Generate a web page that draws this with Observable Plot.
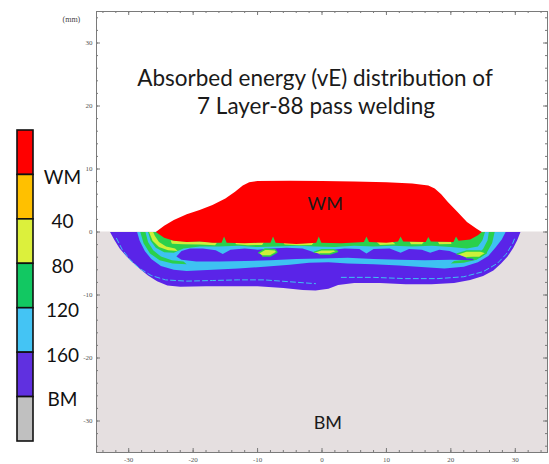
<!DOCTYPE html>
<html><head><meta charset="utf-8">
<script src="https://cdn.jsdelivr.net/npm/d3@7"></script>
<script src="https://cdn.jsdelivr.net/npm/@observablehq/plot@0.6"></script>
<style>
body{margin:0;background:#fff}
#wrap{position:relative;width:549px;height:464px;overflow:hidden}
#wrap svg{position:absolute;left:0;top:0;background:transparent;overflow:visible}
</style>
</head><body><div id="wrap"></div>
<script>
// ---- axes / ticks ----
const xDomain = [-35, 35];
const yDomain = [-35, 35];
const majorTicks = [-30, -20, -10, 0, 10, 20, 30];
const minorTicks = [-34,-32,-30,-28,-26,-24,-22,-20,-18,-16,-14,-12,-10,-8,-6,-4,-2,0,2,4,6,8,10,12,14,16,18,20,22,24,26,28,30,32,34];
const titleLines = ["Absorbed energy (vE) distribution of", "7 Layer-88 pass welding"];
const unitLabel = ["(mm)"];

// ---- legend ----
const legendColors = ["#ff0000", "#ffc000", "#dcf03c", "#12c862", "#44c4f4", "#6030e0", "#c0c0c0"];
const legendLabels = ["WM", "40", "80", "120", "160", "BM"];

// ---- region boundaries (mm) ----
const blueOuter = [[-32.9,0],[-32.2,-1.3],[-31.4,-2.6],[-30.4,-3.8],[-29.4,-4.8],[-28.2,-5.9],[-27,-6.9],[-25.6,-7.8],[-24,-8.5],[-22,-8.7],[-18,-8.6],[-14,-8.6],[-10,-8.6],[-6,-8.9],[-3,-9.2],[-1,-9.3],[1,-9.0],[2.5,-8.4],[5,-8.1],[9,-8.1],[13,-8.3],[17,-8.3],[20.5,-8.1],[23,-7.6],[25,-7.0],[26.6,-6.1],[27.8,-5.0],[28.8,-3.9],[29.7,-2.5],[30.3,-1.3],[30.8,0]];
const lightBlueBowl = [[-28.7,0],[-28.3,-1.4],[-27.5,-3.0],[-26.5,-4.3],[-25,-5.4],[-23,-6.0],[-21,-6.2],[-17,-6.0],[-13,-5.8],[-9,-5.5],[-5,-5.2],[-2,-4.9],[1,-4.8],[4,-5.0],[8,-5.1],[12,-5.3],[16,-5.6],[19,-5.8],[22,-5.5],[24.2,-4.8],[25.8,-3.8],[27,-2.4],[27.9,-1.2],[28.5,0]];
const greenArcLeft = [[-28.2,0],[-27.7,-1.8],[-26.7,-3.4],[-25.2,-4.5],[-23.2,-5.0],[-21,-5.1],[-21.5,-4.7],[-23.3,-4.5],[-25,-3.9],[-26.2,-2.9],[-27,-1.6],[-27.4,0]];
const greenArcRight = [[26.8,0],[26.4,-1.8],[25.5,-3.4],[24,-4.4],[22,-4.9],[20,-5.0],[20.5,-4.6],[22.3,-4.4],[23.9,-3.8],[25,-2.7],[25.7,-1.3],[25.9,0]];
const innerBlueTop = [[-22.6,-3.9],[-21.8,-3.0],[-20.5,-2.6],[-18.5,-2.6],[-16.5,-2.9],[-15.4,-3.5],[-14.2,-2.8],[-12,-2.6],[-10,-2.8],[-8,-2.6],[-5.5,-2.5],[-3,-2.6],[-1,-3.3],[1,-2.9],[3.5,-2.6],[5.8,-2.7],[6.9,-3.4],[8,-2.7],[10.5,-2.6],[12.2,-3.3],[13.5,-2.7],[15.5,-2.8],[16.8,-3.3],[18.2,-2.8],[19.8,-3.0],[21,-3.5],[22.5,-4.0],[23.5,-4.3]];
const innerBlueBottom = [[-21.8,-4.4],[-19.5,-4.7],[-16,-4.7],[-12,-4.6],[-8,-4.5],[-4,-4.3],[0,-4.2],[4,-4.1],[8,-4.3],[12,-4.4],[16,-4.5],[20,-4.4],[23.5,-4.5]];
const greenBowl = [[-27.0,0],[-26.6,-1.4],[-25.8,-2.5],[-24.5,-3.2],[-23,-3.3],[-21.5,-2.6],[-19,-2.3],[-16,-2.3],[-13,-2.2],[-10,-2.4],[-7,-2.3],[-4,-2.2],[-1,-2.3],[2,-2.4],[5,-2.2],[8,-2.3],[11,-2.2],[14,-2.3],[17,-2.2],[20,-2.4],[22.5,-2.6],[24.2,-2.3],[24.9,-1.3],[25.3,0]];
const yellowArcLeft = [[-26.85,0],[-26.3,-1.4],[-25.3,-2.4],[-23.9,-2.9],[-22.4,-3.0],[-22.8,-2.6],[-24.2,-2.3],[-25.3,-1.6],[-25.95,-0.6],[-26.2,0]];
const yellowStrips = [
  [[-23.5,-1.3],[-21,-1.5],[-18.5,-1.5],[-16.3,-1.7],[-16.6,-2.1],[-19,-2.0],[-21.5,-1.95],[-23.3,-1.85]],
  [[-13.6,-1.6],[-11,-1.7],[-9,-1.6],[-9.3,-2.05],[-11.5,-2.1],[-13.3,-1.95]],
  [[-6,-1.7],[-3,-1.8],[-1.3,-1.7],[-1.6,-2.05],[-3.5,-2.1],[-5.8,-2.0]],
  [[8.5,-1.6],[11,-1.6],[11.4,-1.95],[9,-2.05]],
  [[13.6,-1.5],[15.8,-1.6],[15.5,-1.95],[13.8,-1.95]],
  [[18,-1.6],[20,-1.5],[20.1,-1.9],[18.2,-1.95]]
];
const yellowLenses = [
  [[-9.8,-3.3],[-8.8,-2.7],[-7.3,-2.8],[-7.0,-3.2],[-8.0,-3.8],[-9.2,-3.8]],
  [[-1.2,-3.2],[0,-2.8],[1.8,-2.8],[2.4,-3.1],[1.2,-3.5],[-0.3,-3.5]],
  [[21,-3.5],[22.5,-3.0],[24.5,-3.0],[25.5,-3.3],[24.5,-4.0],[22.5,-4.1]]
];
const redTop = [[-25.8,0],[-24.5,1.0],[-23,1.9],[-21,2.8],[-19,3.5],[-17,4.3],[-15,5.3],[-13.5,6.4],[-12.3,7.4],[-11.3,7.9],[-10,8.1],[-5,8.15],[0,8.1],[5,8.0],[10,7.9],[14,7.7],[16.5,7.4],[17.5,6.9],[18.5,6.0],[19.5,4.8],[21,3.2],[22.5,1.6],[24,0.5],[24.8,0]];
const redBottom = [[-25.8,0],[-24.5,-0.9],[-23,-1.4],[-21,-1.6],[-19,-1.5],[-17,-1.7],[-15.6,-1.7],[-15.2,-0.7],[-14.8,-1.7],[-12,-1.8],[-10,-1.7],[-8.0,-1.7],[-7.6,-0.7],[-7.2,-1.7],[-4,-1.9],[-0.9,-1.7],[-0.5,-0.7],[-0.1,-1.7],[3,-1.8],[6.5,-1.6],[6.9,-0.7],[7.3,-1.6],[10,-1.7],[11.8,-1.5],[12.2,-0.7],[12.6,-1.5],[16.1,-1.6],[16.5,-0.8],[16.9,-1.5],[20.4,-1.6],[20.8,-0.7],[21.2,-1.4],[23,-1.2],[24.2,-0.5],[24.8,0]];
const dashLeft = [[-31.9,-1.0],[-31.0,-2.8],[-29.8,-4.4],[-28.3,-5.8],[-26.5,-6.9],[-24.3,-7.6],[-21,-7.8],[-17,-7.7],[-13,-7.6],[-9,-7.6],[-5,-7.9],[-1,-8.2]];
const dashRight = [[3,-7.2],[8,-7.2],[13,-7.4],[18,-7.4],[22,-7.1],[25,-6.3],[27.2,-5.0],[28.6,-3.5],[29.6,-1.8],[30.0,-0.8]];

const regionLabels = [{label: "WM", x: 0.5, y: 4.4}, {label: "BM", x: 0.9, y: -30.4}];

// ---- colours ----
const C = {red: "#ff0000", yellow: "#cdf03a", green: "#2ad04c", lightBlue: "#3ec2f2", blue: "#5a24e8", bm: "#e5dfe0", axis: "#7a7a7a"};

const W = 549, H = 464, mL = 96, mR = 2, mT = 11, mB = 12;
const pw = W - mL - mR, ph = H - mT - mB;

const poly = (pts, fill, o = {}) => Plot.line(pts, {x: d => d[0], y: d => d[1], fill, stroke: "none", curve: "linear", ...o});
const innerBlue = innerBlueTop.concat(innerBlueBottom.slice().reverse());
const redShape = redTop.concat(redBottom.slice().reverse());
const bmRegion = [{x1: xDomain[0], x2: xDomain[1], y1: yDomain[0], y2: 0}];
const serif = "'Liberation Serif', 'DejaVu Serif', serif";

const main = Plot.plot({
  width: W, height: H, marginLeft: mL, marginRight: mR, marginTop: mT, marginBottom: mB,
  x: {domain: xDomain, axis: null},
  y: {domain: yDomain, axis: null},
  style: {background: "transparent", fontFamily: "Lato, 'Open Sans', sans-serif"},
  marks: [
    Plot.rect(bmRegion, {x1: "x1", x2: "x2", y1: "y1", y2: "y2", fill: C.bm}),
    poly(blueOuter, C.blue),
    Plot.line(dashLeft, {x: d => d[0], y: d => d[1], stroke: C.lightBlue, strokeWidth: 1, strokeDasharray: "5,3"}),
    Plot.line(dashRight, {x: d => d[0], y: d => d[1], stroke: C.lightBlue, strokeWidth: 1, strokeDasharray: "5,3"}),
    poly(lightBlueBowl, C.lightBlue),
    poly(greenArcLeft, C.green),
    poly(greenArcRight, C.green),
    poly(innerBlue, C.blue),
    poly(greenBowl, C.green),
    poly(yellowArcLeft, C.yellow),
    ...yellowStrips.map(s => poly(s, C.yellow)),
    ...yellowLenses.map(s => poly(s, C.yellow, {stroke: C.green, strokeWidth: 1.5})),
    poly(redShape, C.red),
    Plot.text(regionLabels, {x: "x", y: "y", text: "label", fontSize: 18, fill: "#1a1a1a"}),
    Plot.text([titleLines[0]], {frameAnchor: "top", lineAnchor: "middle", dx: -7, dy: 67, fontSize: 22.5, fill: "#1a1a1a"}),
    Plot.text([titleLines[1]], {frameAnchor: "top", lineAnchor: "middle", dx: -6, dy: 95, fontSize: 22.5, fill: "#1a1a1a"}),
    Plot.text(unitLabel, {frameAnchor: "top-left", lineAnchor: "middle", dx: -34, dy: 8, fontSize: 8, fill: "#444", fontFamily: serif}),
    Plot.frame({stroke: C.axis, strokeWidth: 1}),
    // minor ticks (inward, all four sides)
    Plot.ruleX(minorTicks, {x: d => d, insetTop: ph - 2, stroke: C.axis}),
    Plot.ruleX(minorTicks, {x: d => d, insetBottom: ph - 2, stroke: C.axis}),
    Plot.ruleY(minorTicks, {y: d => d, insetRight: pw - 2, stroke: C.axis}),
    Plot.ruleY(minorTicks, {y: d => d, insetLeft: pw - 2, stroke: C.axis}),
    // major ticks
    Plot.ruleX(majorTicks, {x: d => d, insetTop: ph - 4, stroke: C.axis}),
    Plot.ruleX(majorTicks, {x: d => d, insetBottom: ph - 4, stroke: C.axis}),
    Plot.ruleY(majorTicks, {y: d => d, insetRight: pw - 4, stroke: C.axis}),
    Plot.ruleY(majorTicks, {y: d => d, insetLeft: pw - 4, stroke: C.axis}),
    // tick labels
    Plot.text(majorTicks, {x: d => d, text: d => String(d), frameAnchor: "bottom", lineAnchor: "middle", dy: 7, fontSize: 7, fill: "#555", fontFamily: serif}),
    Plot.text(majorTicks, {y: d => d, text: d => String(d), frameAnchor: "left", dx: -4, textAnchor: "end", fontSize: 7, fill: "#555", fontFamily: serif})
  ]
});

const legend = Plot.plot({
  width: 90, height: H, marginTop: 130, marginBottom: 23, marginLeft: 17, marginRight: 57,
  x: {domain: [0, 1], axis: null},
  y: {domain: [legendColors.length, 0], axis: null},
  color: {type: "identity"},
  style: {background: "transparent", fontFamily: "Lato, 'Open Sans', sans-serif"},
  marks: [
    Plot.rect(legendColors, {x1: 0, x2: 1, y1: (d, i) => i, y2: (d, i) => i + 1, fill: d => d, stroke: "#111", strokeWidth: 1.6}),
    Plot.text(legendLabels, {y: (d, i) => i + 1, frameAnchor: "left", textAnchor: "middle", lineAnchor: "middle", dx: 45, dy: 3, fontSize: 19, fill: "#111"})
  ]
});

const wrap = document.getElementById("wrap");
wrap.appendChild(main);
wrap.appendChild(legend);
</script>
</body></html>
